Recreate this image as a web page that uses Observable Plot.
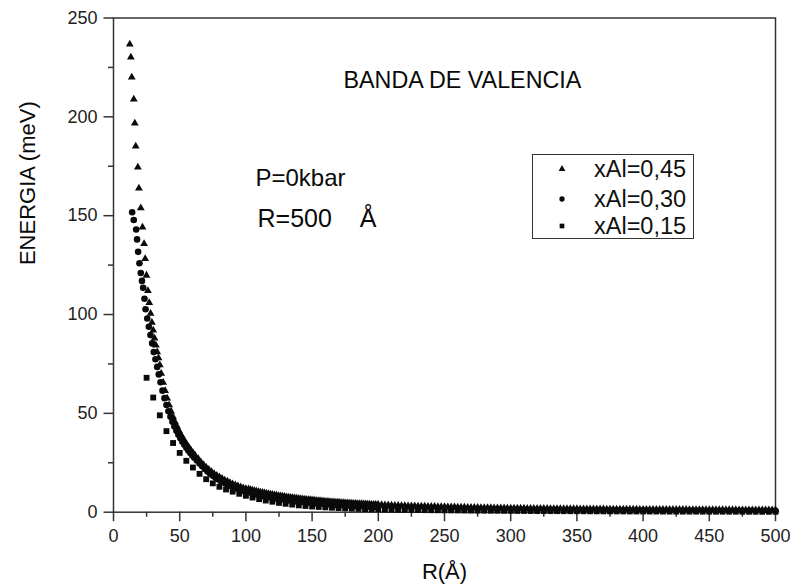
<!DOCTYPE html>
<html><head><meta charset="utf-8">
<script src="https://cdn.jsdelivr.net/npm/d3@7"></script>
<script src="https://cdn.jsdelivr.net/npm/@observablehq/plot@0.6"></script>
<style>
body{margin:0;background:#fff;}
#wrap{position:relative;width:793px;height:588px;font-family:"Liberation Sans",Arial,sans-serif;}
#legend{position:absolute;left:532px;top:154px;width:162px;height:85px;border:1.5px solid #333;box-sizing:border-box;background:#fff;}
#legend .lab{position:absolute;left:61px;font-size:23.5px;line-height:24px;color:#111;white-space:nowrap;}
#legend svg{position:absolute;left:21px;}
</style></head><body><div id="wrap"></div>
<script>
// ---- data ----
const seriesLabels = ["xAl=0,45", "xAl=0,30", "xAl=0,15"];
const annotations = ["BANDA DE VALENCIA", "P=0kbar", "R=500\u00a0\u00a0\u00a0\u00a0Å"];
const xMajor = [0,50,100,150,200,250,300,350,400,450,500];
const xMinor = [25,75,125,175,225,275,325,375,425,475];
const yMajor = [0,50,100,150,200,250];
const yMinor = [25,75,125,175,225];

// xAl = 0,45 (triangles)
const triR = [12.3,13.1,13.8,15.3,16.1,16.8,18.4,19.2,20.6,21.9,23.1,23.9,24.9,26,27,28,29,30,31,32,33,34,35,
36,37.5,39,40.5,42,43.5,45,46.5,48,49.5,51,52.5,54,55.5,57,58.5,60,61.5,
64,66,68,70,72,74,76,78,80,82,84,86,88,90,92,94,96,98,100,
103.5,106.5,109.5,112.5,115.5,118.5,121.5,124.5,127.5,130.5,133.5,136.5,139.5,142.5,145.5,148.5,151.5,154.5,157.5,160.5,163.5,166.5,169.5,172.5,175.5,178.5,181.5,184.5,187.5,190.5,193.5,196.5,199.5,
202.5,207.5,212.5,217.5,222.5,227.5,232.5,237.5,242.5,247.5,252.5,257.5,262.5,267.5,272.5,277.5,282.5,287.5,292.5,297.5,
302.5,307.5,312.5,317.5,322.5,327.5,332.5,337.5,342.5,347.5,352.5,357.5,362.5,367.5,372.5,377.5,382.5,387.5,392.5,397.5,
402.5,407.5,412.5,417.5,422.5,427.5,432.5,437.5,442.5,447.5,452.5,457.5,462.5,467.5,472.5,477.5,482.5,487.5,492.5,497.5];
const triE = [236.7,230.2,220.0,208.9,196.8,185.1,174.5,163.9,153.9,144.2,135.8,128.2,119.8,112,106,100.5,96,92,88,84.5,81,78,74.5,
70.2,65.6,61.4,57.6,54.2,51.0,48.2,45.6,43.3,41.2,39.2,37.4,35.7,34.1,32.7,31.3,30.1,28.9,
27.0,25.4,24.0,22.7,21.6,20.5,19.5,18.6,17.8,17.0,16.2,15.6,14.9,14.3,13.8,13.3,12.8,12.3,11.9,
11.41,10.87,10.37,9.92,9.50,9.09,8.70,8.36,8.04,7.74,7.45,7.19,6.94,6.70,6.46,6.24,6.03,5.83,5.64,5.46,5.29,5.13,4.98,4.83,4.70,4.56,4.45,4.33,4.22,4.11,4.01,3.91,3.81,
3.73,3.58,3.42,3.30,3.19,3.09,2.99,2.91,2.83,2.74,2.66,2.59,2.51,2.43,2.37,2.30,2.23,2.16,2.09,2.04,
1.99,1.95,1.91,1.89,1.85,1.81,1.78,1.75,1.72,1.69,1.67,1.63,1.60,1.57,1.54,1.52,1.49,1.47,1.44,1.42,
1.40,1.39,1.36,1.35,1.32,1.31,1.30,1.27,1.26,1.25,1.23,1.21,1.20,1.19,1.17,1.16,1.15,1.14,1.13,1.12];
// xAl = 0,45, further triangles inside the dense tail of the band
const triR2 = [102,105,108,111,114,117,120,123,126,129,132,135,138,141,144,147,150,153,156,159,162,165,168,171,174,177,180,183,186,189,192,195,198,
200,205,210,215,220,225,230,235,240,245,250,255,260,265,270,275,280,285,290,295,
300,305,310,315,320,325,330,335,340,345,350,355,360,365,370,375,380,385,390,395,
400,405,410,415,420,425,430,435,440,445,450,455,460,465,470,475,480,485,490,495,500];
const triE2 = [11.7,11.13,10.62,10.14,9.70,9.29,8.89,8.53,8.20,7.89,7.60,7.33,7.07,6.82,6.58,6.35,6.13,5.92,5.73,5.55,5.37,5.21,5.05,4.91,4.76,4.63,4.51,4.39,4.28,4.16,4.06,3.95,3.86,
3.80,3.64,3.50,3.36,3.25,3.14,3.04,2.95,2.87,2.78,2.71,2.62,2.55,2.48,2.40,2.33,2.27,2.20,2.13,2.06,
2.01,1.98,1.94,1.90,1.86,1.84,1.80,1.77,1.74,1.71,1.68,1.64,1.62,1.59,1.56,1.53,1.51,1.48,1.46,1.44,
1.41,1.39,1.38,1.35,1.34,1.32,1.30,1.29,1.27,1.25,1.24,1.22,1.21,1.20,1.18,1.17,1.15,1.14,1.13,1.13,1.12];

// xAl = 0,30 (circles)
const cirR = [14.1,15.3,17.1,17.8,18.6,19.6,20.6,21.5,22.4,23.4,24.2,25.5,26.7,27.9,29.2,30.4,31.7,33,34.2,
35.5,37,38.5,40,41.5,43,44.5,46,47.5,49,50.5,52,53.5,55,56.5,58,59.5,61,63,
65,67,69,71,73,75,77,79,81,83,85,87,89,91,93,95,97,99,
102,105,108,111,114,117,120,123,126,129,132,135,138,141,144,147,150,153,156,159,162,165,168,171,174,177,180,183,186,189,192,195,198,
200,205,210,215,220,225,230,235,240,245,250,255,260,265,270,275,280,285,290,295,
300,305,310,315,320,325,330,335,340,345,350,355,360,365,370,375,380,385,390,395,
400,405,410,415,420,425,430,435,440,445,450,455,460,465,470,475,480,485,490,495,500];
const cirE = [151.7,147.8,143,138,131.7,125.9,121,117,113.5,108,102.7,98,93.8,89.6,85.4,81,77.4,73.5,69.7,
65.7,61.5,57.7,54.2,51.1,48.3,45.7,43.4,41.2,39.2,37.4,35.7,34.1,32.6,31.2,29.9,28.7,27.6,26.2,
24.6,23.2,21.8,20.6,19.5,18.5,17.5,16.7,15.8,15.1,14.4,13.7,13.1,12.6,12.0,11.5,11.1,10.6,
10.0,9.43,8.92,8.44,8.00,7.60,7.22,6.87,6.55,6.25,5.97,5.71,5.46,5.23,5.01,4.81,4.62,4.44,4.27,4.11,3.96,3.82,3.68,3.56,3.43,3.32,3.21,3.11,3.01,2.91,2.82,2.73,2.65,
2.60,2.47,2.36,2.25,2.17,2.09,2.03,1.96,1.90,1.84,1.79,1.73,1.69,1.64,1.59,1.55,1.51,1.47,1.43,1.39,
1.36,1.33,1.30,1.27,1.24,1.22,1.19,1.17,1.14,1.12,1.10,1.07,1.05,1.03,1.01,0.995,0.977,0.959,0.942,0.925,
0.909,0.894,0.878,0.863,0.849,0.835,0.822,0.808,0.796,0.783,0.771,0.759,0.748,0.736,0.725,0.715,0.704,0.694,0.684,0.675,0.665];

// xAl = 0,15 (squares)
const sqR = [25,30,35,40,45,50,55,60,65,70,75,80,85,90,95,100,105,110,115,120,125,130,135,140,145,150,155,160,165,170,175,180,185,190,195,
200,205,210,215,220,225,230,235,240,245,250,255,260,265,270,275,280,285,290,295,
300,305,310,315,320,325,330,335,340,345,350,355,360,365,370,375,380,385,390,395,
400,405,410,415,420,425,430,435,440,445,450,455,460,465,470,475,480,485,490,495,500];
const sqE = [68,58,49,41,35,30,26,22.6,19.4,16.7,14.6,12.85,11.5,10.4,9.3,8.3,7.4,6.6,5.9,5.3,4.7,4.25,3.85,3.45,3.15,2.87,2.65,2.46,2.27,2.10,1.95,1.81,1.69,1.58,1.48,
1.40,1.32,1.26,1.20,1.17,1.12,1.08,1.04,1.00,0.97,0.94,0.91,0.89,0.85,0.81,0.78,0.76,0.73,0.71,0.68,
0.66,0.64,0.62,0.60,0.58,0.57,0.55,0.54,0.52,0.51,0.50,0.48,0.46,0.44,0.43,0.42,0.41,0.39,0.38,0.37,
0.36,0.35,0.34,0.33,0.32,0.31,0.30,0.29,0.29,0.28,0.27,0.26,0.26,0.25,0.25,0.24,0.23,0.22,0.22,0.21,0.21];

// ---- build tables ----
const zip = (R, E) => R.slice(0, Math.min(R.length, E.length)).map((r, i) => ({R: r, E: E[i]}));
const tri = zip(triR, triE).concat(zip(triR2, triE2)), cir = zip(cirR, cirE), sq = zip(sqR, sqE);

const ink = "#0a0a0a";
const axisCol = "#333";
const fmt = d3.format("d");

const plot = Plot.plot({
  width: 793, height: 588,
  marginLeft: 113, marginRight: 18, marginTop: 17.5, marginBottom: 76.3,
  style: {fontFamily: "Liberation Sans, Arial, sans-serif", fontSize: "18px", color: "#222", background: "white", overflow: "visible"},
  x: {domain: [0, 500]},
  y: {domain: [0, 250]},
  marks: [
    Plot.axisX({ticks: xMajor, tickSize: 9.5, tickPadding: 8, tickFormat: fmt, label: null, stroke: axisCol, strokeWidth: 1.5, fontSize: 18, fill: "#222"}),
    Plot.axisX({ticks: xMinor, tickSize: 5, tickFormat: () => "", label: null, stroke: axisCol, strokeWidth: 1.5}),
    Plot.axisY({ticks: yMajor, tickSize: 9.5, tickPadding: 6.5, tickFormat: fmt, label: null, stroke: axisCol, strokeWidth: 1.5, fontSize: 18, fill: "#222"}),
    Plot.axisY({ticks: yMinor, tickSize: 5, tickFormat: () => "", label: null, stroke: axisCol, strokeWidth: 1.5}),
    Plot.frame({stroke: axisCol, strokeWidth: 1.5}),
    Plot.dot(sq, {x: "R", y: "E", symbol: "square", r: 3.3, fill: ink, stroke: "none"}),
    Plot.dot(cir, {x: "R", y: "E", symbol: "circle", r: 3.3, fill: ink, stroke: "none"}),
    Plot.dot(tri, {x: "R", y: "E", symbol: "triangle", r: 2.9, fill: ink, stroke: "none"}),
    Plot.text([annotations[0]], {text: d => d, frameAnchor: "top-left", dx: 230, dy: 62.5, textAnchor: "start", lineAnchor: "middle", fontSize: 23.3, fill: ink}),
    Plot.text([annotations[1]], {text: d => d, frameAnchor: "top-left", dx: 142, dy: 160.5, textAnchor: "start", lineAnchor: "middle", fontSize: 24, fill: ink}),
    Plot.text([annotations[2]], {text: d => d, frameAnchor: "top-left", dx: 144, dy: 200.5, textAnchor: "start", lineAnchor: "middle", fontSize: 25, fill: ink}),
    Plot.text(["R(Å)"], {text: d => d, frameAnchor: "bottom", dy: 60, lineAnchor: "middle", fontSize: 22, fill: ink}),
    Plot.text(["ENERGIA (meV)"], {text: d => d, frameAnchor: "left", dx: -86, rotate: -90, lineAnchor: "middle", fontSize: 22, fill: ink})
  ]
});

const wrap = document.getElementById("wrap");
wrap.appendChild(plot);

// legend box
const legend = document.createElement("div");
legend.id = "legend";
const symbols = ["triangle", "circle", "square"];
const rowsY = [14, 44, 71];
seriesLabels.forEach((lab, i) => {
  const s = d3.create("svg").attr("width", 16).attr("height", 16)
    .style("top", (rowsY[i] - 8) + "px");
  const sym = {triangle: d3.symbolTriangle, circle: d3.symbolCircle, square: d3.symbolSquare}[symbols[i]];
  s.append("path").attr("transform", "translate(8,8)")
    .attr("d", d3.symbol(sym, i === 0 ? 20 : 22)()).attr("fill", ink);
  legend.appendChild(s.node());
  const t = document.createElement("div");
  t.className = "lab";
  t.style.top = (rowsY[i] - 12) + "px";
  t.textContent = lab;
  legend.appendChild(t);
});
wrap.appendChild(legend);
</script></body></html>
